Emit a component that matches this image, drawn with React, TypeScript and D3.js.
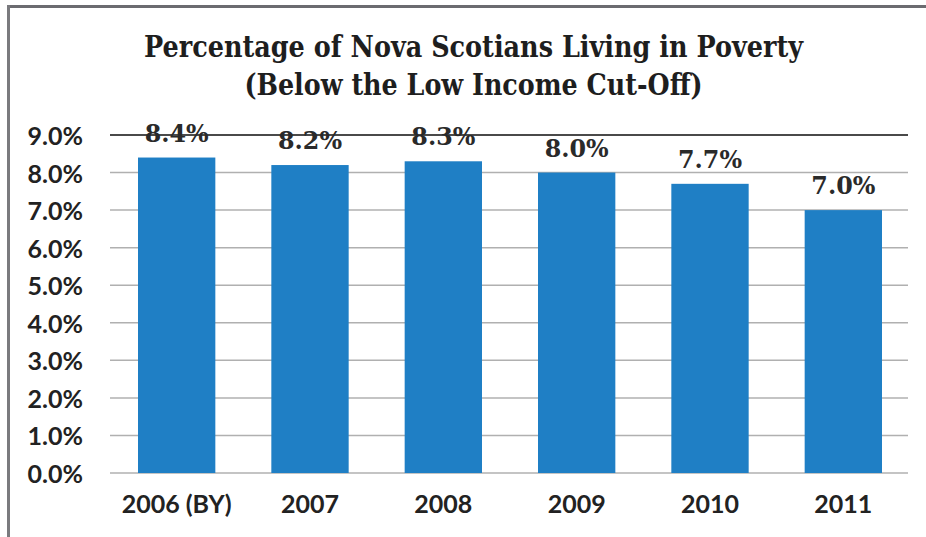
import React from "react";
import * as d3 from "d3";

const categories = ["2006 (BY)", "2007", "2008", "2009", "2010", "2011"];
const values = [8.4, 8.2, 8.3, 8.0, 7.7, 7.0];
const yTicks = [0, 1, 2, 3, 4, 5, 6, 7, 8, 9];
const titleLines = [
  "Percentage of Nova Scotians Living in Poverty",
  "(Below the Low Income Cut-Off)",
];

const W = 926;
const H = 537;

export default function App() {
  const x = d3
    .scaleBand<string>()
    .domain(categories)
    .range([110, 910])
    .paddingInner(0.42)
    .paddingOuter(0.21);
  const y = d3.scaleLinear().domain([0, 9]).range([473, 135]);
  const sans = "Lato, 'Open Sans', sans-serif";
  const serif = "'DejaVu Serif', 'Liberation Serif', serif";

  return (
    <svg
      width={W}
      height={H}
      style={{ position: "absolute", left: 0, top: 0, background: "#fff" }}
    >
      <rect x={0} y={0} width={W} height={H} fill="#fff" />
      {/* frame */}
      <line x1={7} x2={W} y1={6.5} y2={6.5} stroke="#6b6b70" strokeWidth={3} />
      <line x1={8.5} x2={8.5} y1={5} y2={H} stroke="#7a7a7e" strokeWidth={3} />

      {/* title */}
      {titleLines.map((t, i) => (
        <text
          key={t}
          x={473.5}
          y={57 + i * 38}
          textAnchor="middle"
          fontFamily={serif}
          fontWeight="bold"
          fontSize={30}
          fill="#1e1e1e"
          textLength={i === 0 ? 659 : 458}
          lengthAdjust="spacingAndGlyphs"
        >
          {t}
        </text>
      ))}

      {/* gridlines */}
      {yTicks.map((t) => (
        <line
          key={t}
          x1={110}
          x2={908}
          y1={y(t)}
          y2={y(t)}
          stroke={t === 9 ? "#4a4a4a" : "#b0b0b0"}
          strokeWidth={t === 9 ? 2 : 1.5}
        />
      ))}

      {/* y tick labels */}
      {yTicks.map((t) => (
        <text
          key={"l" + t}
          x={83}
          y={y(t) + 10}
          textAnchor="end"
          fontFamily={sans}
          fontWeight="bold"
          fontSize={25}
          fill="#222"
        >
          {t.toFixed(1) + "%"}
        </text>
      ))}

      {/* bars */}
      {categories.map((c, i) => (
        <rect
          key={c}
          x={x(c)}
          y={y(values[i])}
          width={x.bandwidth()}
          height={y(0) - y(values[i])}
          fill="#1f7fc5"
        />
      ))}

      {/* data labels */}
      {categories.map((c, i) => (
        <text
          key={"d" + c}
          x={(x(c) as number) + x.bandwidth() / 2}
          y={y(values[i]) - 16}
          textAnchor="middle"
          fontFamily={serif}
          fontWeight="bold"
          fontSize={25}
          fill="#2a2a2a"
          textLength={64}
          lengthAdjust="spacingAndGlyphs"
        >
          {values[i].toFixed(1) + "%"}
        </text>
      ))}

      {/* category labels */}
      {categories.map((c) => (
        <text
          key={"c" + c}
          x={(x(c) as number) + x.bandwidth() / 2}
          y={513}
          textAnchor="middle"
          fontFamily={sans}
          fontWeight="bold"
          fontSize={25}
          fill="#222"
        >
          {c}
        </text>
      ))}
    </svg>
  );
}
